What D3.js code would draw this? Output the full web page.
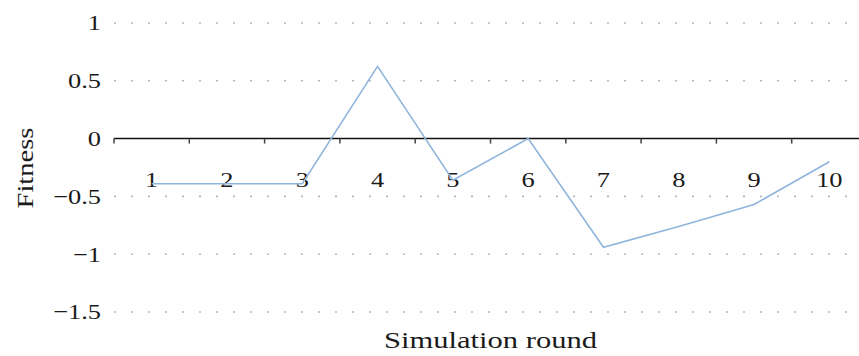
<!DOCTYPE html>
<html>
<head>
<meta charset="utf-8">
<script src="https://cdn.jsdelivr.net/npm/d3@7"></script>
<style>
  body { margin: 0; background: #fff; }
  text { font-family: "Liberation Serif", "Times New Roman", serif; fill: #1a1a1a; }
</style>
</head>
<body>
<div id="chart"></div>
<script>
// Fitness per simulation round
const rounds = [1, 2, 3, 4, 5, 6, 7, 8, 9, 10];
const fitness = [-0.39, -0.39, -0.39, 0.625, -0.36, 0, -0.94, -0.76, -0.57, -0.2];
const yTicks = [1, 0.5, 0, -0.5, -1, -1.5];

const W = 859, H = 356;
const plot = { left: 114, right: 867, top: 23, bottom: 312 };
const stretch = 1.2; // the source type is wider than Liberation Serif

const svg = d3.select('#chart')
    .append('svg')
    .attr('width', W)
    .attr('height', H);

const x = d3.scaleBand()
    .domain(rounds)
    .range([plot.left, plot.right])
    .padding(0);

const y = d3.scaleLinear()
    .domain([-1.5, 1])
    .range([plot.bottom, plot.top]);

// dotted grid lines
svg.append('g')
    .selectAll('line')
    .data(yTicks.filter(d => d !== 0))
    .enter()
    .append('line')
    .attr('x1', plot.left)
    .attr('x2', W)
    .attr('y1', d => y(d))
    .attr('y2', d => y(d))
    .style('stroke', '#b8b8b8')
    .style('stroke-width', 1.6)
    .style('stroke-dasharray', '2,15');

// y labels
const fmt = d => (d < 0 ? '\u2212' : '') + Math.abs(d);
svg.append('g')
    .selectAll('text')
    .data(yTicks)
    .enter()
    .append('text')
    .attr('transform', d => `translate(101,${y(d)}) scale(${stretch},1)`)
    .attr('dy', '0.34em')
    .style('text-anchor', 'end')
    .style('font-size', '22px')
    .text(fmt);

// zero axis with ticks at band edges
const xAxis = svg.append('g')
    .attr('transform', `translate(0,${y(0)})`);

xAxis.append('line')
    .attr('x1', plot.left)
    .attr('x2', plot.right)
    .style('stroke', '#111')
    .style('stroke-width', 1.5);

xAxis.selectAll('.tick')
    .data(rounds)
    .enter()
    .append('line')
    .attr('class', 'tick')
    .attr('x1', d => x(d))
    .attr('x2', d => x(d))
    .attr('y1', 0)
    .attr('y2', 5)
    .style('stroke', '#444')
    .style('stroke-width', 1.5);

// category labels
svg.append('g')
    .selectAll('text')
    .data(rounds)
    .enter()
    .append('text')
    .attr('transform', d => `translate(${x(d) + x.bandwidth() / 2},187) scale(${stretch},1)`)
    .style('text-anchor', 'middle')
    .style('font-size', '22px')
    .text(d => d);

// fitness line
const line = d3.line()
    .x((d, i) => x(rounds[i]) + x.bandwidth() / 2)
    .y(d => y(d));

svg.append('path')
    .datum(fitness)
    .attr('d', line)
    .style('fill', 'none')
    .style('stroke', '#8fb5dc')
    .style('stroke-width', 1.6);

// axis titles
svg.append('text')
    .attr('x', (plot.left + plot.right) / 2)
    .attr('y', 348)
    .style('text-anchor', 'middle')
    .style('font-size', '23px')
    .attr('textLength', 213)
    .attr('lengthAdjust', 'spacingAndGlyphs')
    .text('Simulation round');

svg.append('text')
    .attr('transform', 'rotate(-90)')
    .attr('x', -168)
    .attr('y', 33)
    .style('text-anchor', 'middle')
    .style('font-size', '23px')
    .attr('textLength', 81)
    .attr('lengthAdjust', 'spacingAndGlyphs')
    .text('Fitness');
</script>
</body>
</html>
